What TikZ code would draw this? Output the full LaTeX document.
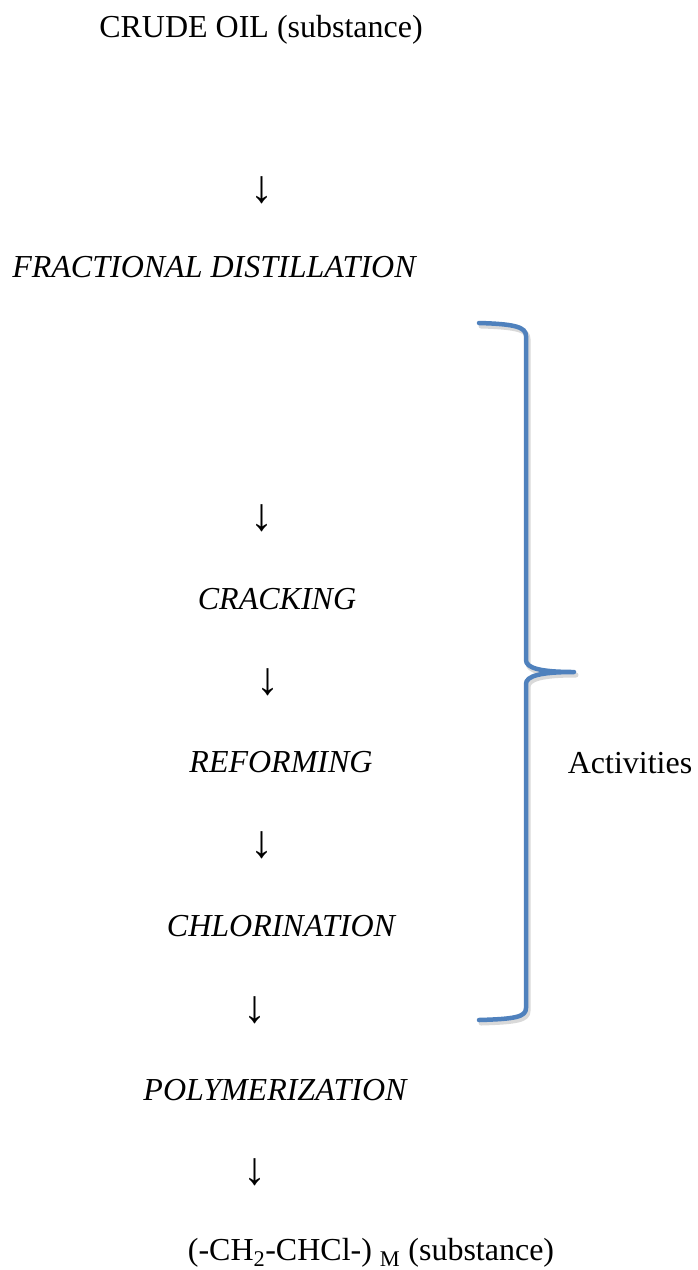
\documentclass[tikz,border=0pt]{standalone}
\usepackage{fontspec}
\setmainfont{Liberation Serif}
\begin{document}
\begin{tikzpicture}[x=1pt,y=-1pt,
  lbl/.style={font=\fontsize{32}{38}\selectfont, inner sep=0pt},
  proc/.style={lbl, font=\fontsize{32}{38}\selectfont\itshape},
  darrow/.style={inner sep=0pt, font=\fontsize{46}{50}\selectfont},
  bracestyle/.style={draw=braceblue, line width=4.5pt, line cap=round, line join=round}]
\definecolor{braceblue}{RGB}{79,129,189}
\useasboundingbox (0,0) rectangle (697,1270);
\node[lbl] (crude) at (261,30) {CRUDE OIL (substance)};
\node[darrow] (a1) at (262,190) {↓};
\node[proc] (frac) at (214,267) {FRACTIONAL DISTILLATION};
\node[darrow] (a2) at (262,518) {↓};
\node[proc] (crack) at (277,599) {CRACKING};
\node[darrow] (a3) at (268,682) {↓};
\node[proc] (reform) at (281,762) {REFORMING};
\node[darrow] (a4) at (262,845) {↓};
\node[proc] (chlor) at (281,926) {CHLORINATION};
\node[darrow] (a5) at (255,1010) {↓};
\node[proc] (poly) at (275,1090) {POLYMERIZATION};
\node[darrow] (a6) at (255,1172) {↓};
\node[lbl] (pvc) at (371,1253) {(-CH\textsubscript{2}-CHCl-) \textsubscript{M} (substance)};
\node[lbl] (act) at (630,763) {Activities};
% brace shadow
\draw[bracestyle, draw=black!15, line width=5pt, xshift=2pt, yshift=-3pt]
  (479,323) .. controls (515,324) and (526,327) .. (526,336)
  -- (526,660) .. controls (526,668) and (540,672) .. (574,672)
  .. controls (540,672) and (526,676) .. (526,684)
  -- (526,1008) .. controls (526,1017) and (515,1019) .. (479,1020);
% brace
\draw[bracestyle]
  (479,323) .. controls (515,324) and (526,327) .. (526,336)
  -- (526,660) .. controls (526,668) and (540,672) .. (574,672)
  .. controls (540,672) and (526,676) .. (526,684)
  -- (526,1008) .. controls (526,1017) and (515,1019) .. (479,1020);
\end{tikzpicture}
\end{document}
